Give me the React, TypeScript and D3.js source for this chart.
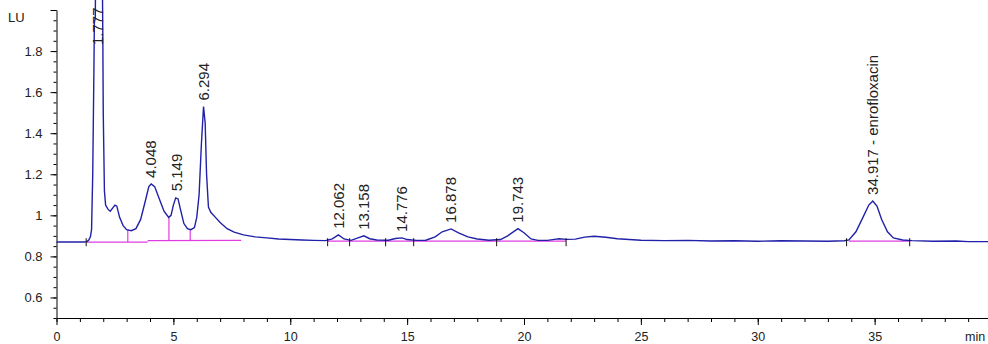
import React, { useEffect, useRef } from 'react';
import * as d3 from 'd3';

// detector trace, retention time (min) vs signal (LU)
const traceTime = [
  0, 1.2, 1.3, 1.38, 1.45, 1.5, 1.55, 1.6, 1.62, 1.66, 1.68, 1.95, 1.98, 2.0, 2.05, 2.1,
  2.2, 2.3, 2.4, 2.5, 2.58, 2.7, 2.85, 3.0, 3.2, 3.4, 3.6, 3.8, 3.95, 4.05, 4.2, 4.4,
  4.6, 4.8, 4.9, 5.0, 5.1, 5.2, 5.3, 5.45, 5.6, 5.75, 5.9, 6.0, 6.1, 6.2, 6.29, 6.36,
  6.42, 6.5, 6.6, 6.8, 7.0, 7.3, 7.6, 8.0, 8.5, 9.0, 9.5, 10.0, 10.5, 11.0, 11.5, 11.8,
  12.06, 12.3, 12.6, 12.9, 13.15, 13.4, 13.7, 14.2, 14.5, 14.78, 15.0, 15.4, 15.8, 16.2,
  16.5, 16.88, 17.2, 17.6, 18.0, 18.5, 19.0, 19.3, 19.74, 20.0, 20.3, 20.6, 21.0, 21.3,
  21.5, 21.8, 22.2, 22.6, 23.0, 23.5, 24.0, 24.5, 25, 26, 27, 28, 29, 30, 31, 32, 33,
  33.7, 33.9, 34.2, 34.5, 34.75, 34.92, 35.1, 35.3, 35.55, 35.8, 36.2, 36.6, 37.5, 38.5,
  39.0, 39.85,
];
const traceSignal = [
  0.87, 0.87, 0.872, 0.88, 0.895, 0.93, 1.2, 1.7, 1.94, 1.96, 2.3, 2.3, 1.9, 1.5, 1.12, 1.05,
  1.03, 1.02, 1.035, 1.05, 1.045, 0.99, 0.95, 0.93, 0.925, 0.935, 0.98, 1.07, 1.14, 1.153, 1.14, 1.08,
  1.02, 0.99, 1.0, 1.05, 1.085, 1.08, 1.03, 0.96, 0.935, 0.93, 0.94, 0.99, 1.1, 1.35, 1.53, 1.45,
  1.2, 1.04, 1.015, 0.99, 0.965, 0.935, 0.918, 0.905, 0.895, 0.89, 0.885, 0.882, 0.88, 0.878, 0.877, 0.885,
  0.905, 0.885, 0.878, 0.89, 0.9, 0.886, 0.88, 0.879, 0.887, 0.89, 0.882, 0.878, 0.879, 0.895,
  0.92, 0.934, 0.915, 0.895, 0.885, 0.879, 0.882, 0.9, 0.935, 0.915, 0.885, 0.878, 0.878, 0.883,
  0.886, 0.883, 0.884, 0.894, 0.898, 0.893, 0.886, 0.882, 0.879, 0.877, 0.878, 0.875, 0.876, 0.874, 0.876, 0.875, 0.874,
  0.876, 0.88, 0.92, 0.99, 1.05, 1.07, 1.045, 0.98, 0.92, 0.89, 0.88, 0.877, 0.874, 0.875,
  0.872, 0.872,
];

// integrated peaks
const peakTimes = [1.777, 4.048, 5.149, 6.294, 12.062, 13.158, 14.776, 16.878, 19.743, 34.917];
const peakHeights = [2.3, 1.153, 1.088, 1.53, 0.905, 0.9, 0.89, 0.934, 0.935, 1.07];
const peakNames = ['', '', '', '', '', '', '', '', '', 'enrofloxacin'];

// baselines drawn by the integrator
const baseStart = [1.3, 3.9, 11.6, 33.9];
const baseEnd = [3.9, 7.9, 21.8, 36.5];
const baseStartVal = [0.87, 0.877, 0.874, 0.874];
const baseEndVal = [0.87, 0.878, 0.874, 0.874];

const dropTimes = [3.05, 4.81, 5.72];
const dropTop = [0.93, 0.99, 0.93];
const dropBase = [0.87, 0.877, 0.877];

const markTimes = [1.27, 11.6, 12.54, 14.08, 15.28, 18.83, 21.8, 33.8, 36.5];

const yMajor = [0.6, 0.8, 1, 1.2, 1.4, 1.6, 1.8, 2.0];
const xMajor = [0, 5, 10, 15, 20, 25, 30, 35];

const App = () => {
  const ref = useRef<SVGSVGElement>(null);

  useEffect(() => {
    const svg = d3.select(ref.current);
    svg.selectAll('*').remove();

    const x = d3.scaleLinear().domain([0, 39.85]).range([56.5, 988]);
    const y = d3.scaleLinear().domain([0.5, 2.0]).range([318, 10]);

    const font = 'Liberation Sans, Arial, sans-serif';

    // y axis
    const yMinorTicks = d3.range(0.5, 2.0001, 0.05);
    svg
      .append('g')
      .attr('transform', 'translate(56.5,0)')
      .call(d3.axisLeft(y).tickValues(yMinorTicks).tickSize(3).tickFormat(() => ''))
      .call((g) => g.select('.domain').remove());
    const yAxis = svg
      .append('g')
      .attr('transform', 'translate(56.5,0)')
      .call(
        d3
          .axisLeft(y)
          .tickValues(yMajor)
          .tickSize(6)
          .tickSizeOuter(0)
          .tickPadding(8)
          .tickFormat((d) => (d === 2 ? '' : d3.format('~g')(d as number)))
      );
    yAxis.selectAll('text').style('font-family', font).style('font-size', '13px').attr('fill', '#222');

    svg
      .append('text')
      .attr('x', 8)
      .attr('y', 22)
      .style('font-family', font)
      .style('font-size', '13px')
      .attr('fill', '#222')
      .text('LU');

    // x axis
    svg
      .append('g')
      .attr('transform', 'translate(0,318)')
      .call(d3.axisBottom(x).tickValues(d3.range(0, 40, 1)).tickSize(4).tickFormat(() => ''))
      .call((g) => g.select('.domain').remove());
    const xAxis = svg
      .append('g')
      .attr('transform', 'translate(0,318)')
      .call(d3.axisBottom(x).tickValues(xMajor).tickSize(7).tickSizeOuter(0).tickPadding(7));
    xAxis.selectAll('text').style('font-family', font).style('font-size', '12.5px').attr('fill', '#222');

    svg
      .append('text')
      .attr('x', x(39.3))
      .attr('y', 341)
      .attr('text-anchor', 'middle')
      .style('font-family', font)
      .style('font-size', '12.5px')
      .attr('fill', '#222')
      .text('min');

    // integration baselines
    const pink = '#e03ce0';
    baseStart.forEach((s, i) => {
      svg
        .append('line')
        .attr('x1', x(s))
        .attr('x2', x(baseEnd[i]))
        .attr('y1', y(baseStartVal[i]))
        .attr('y2', y(baseEndVal[i]))
        .attr('stroke', pink)
        .attr('stroke-width', 1.3);
    });
    dropTimes.forEach((t, i) => {
      svg
        .append('line')
        .attr('x1', x(t))
        .attr('x2', x(t))
        .attr('y1', y(dropBase[i]))
        .attr('y2', y(dropTop[i]))
        .attr('stroke', pink)
        .attr('stroke-width', 1.2);
    });

    // trace
    const points = traceTime.map((t, i) => [t, traceSignal[i]] as [number, number]);
    const line = d3
      .line<[number, number]>()
      .x((d) => x(d[0]))
      .y((d) => y(d[1]));
    svg
      .append('path')
      .attr('d', line(points))
      .attr('fill', 'none')
      .attr('stroke', '#2020a8')
      .attr('stroke-width', 1.4);

    // peak start/end marks
    markTimes.forEach((t) => {
      svg
        .append('line')
        .attr('x1', x(t))
        .attr('x2', x(t))
        .attr('y1', y(0.874) - 3)
        .attr('y2', y(0.874) + 5)
        .attr('stroke', '#111')
        .attr('stroke-width', 1);
    });

    // peak labels (off-scale peak gets its label pinned near the top)
    peakTimes.forEach((t, i) => {
      const label = peakNames[i] ? `${t.toFixed(3)} - ${peakNames[i]}` : t.toFixed(3);
      const yy = y(Math.min(peakHeights[i], 1.8)) - 6;
      svg
        .append('text')
        .attr('transform', `translate(${x(t)},${yy}) rotate(-90)`)
        .attr('dy', '0.35em')
        .style('font-family', font)
        .style('font-size', '15px')
        .attr('fill', '#222')
        .text(label);
    });
  }, []);

  return (
    <svg
      ref={ref}
      width={988}
      height={344}
      style={{ position: 'absolute', left: 0, top: 0, background: '#fff' }}
    />
  );
};

export default App;
